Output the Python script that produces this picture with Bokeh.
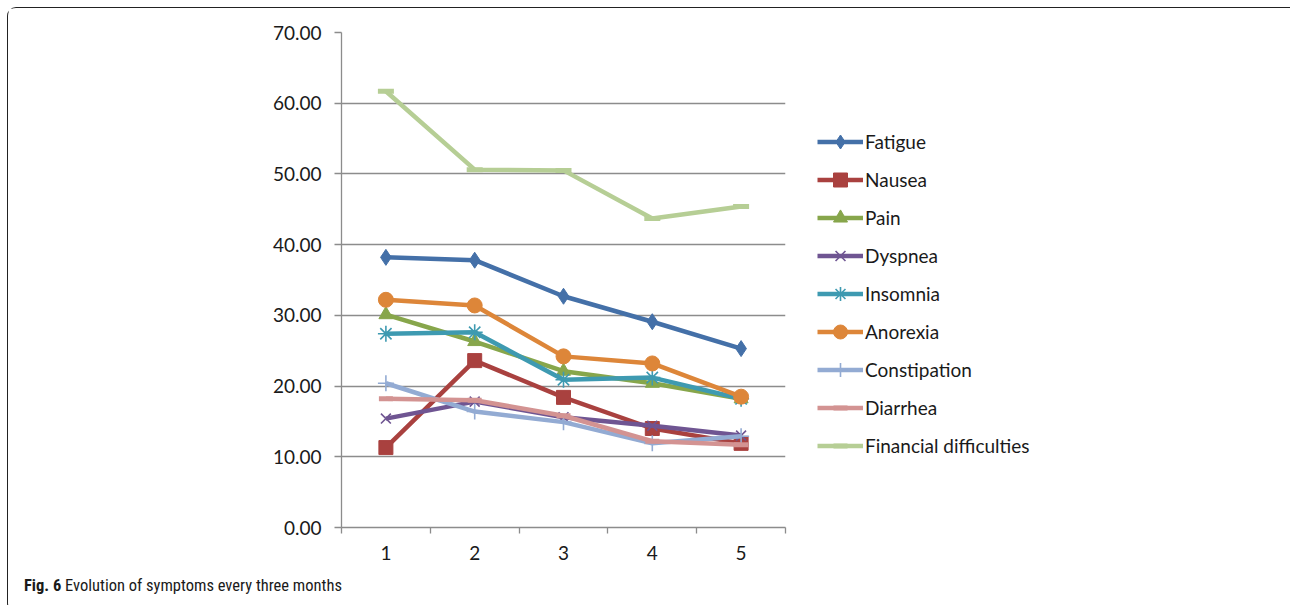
from bokeh.plotting import figure
from bokeh.layouts import column
from bokeh.models import (FixedTicker, NumeralTickFormatter, CustomJSTickFormatter,
                          Legend, Range1d, Div)
from bokeh.embed import file_html
from bokeh.resources import INLINE

# Assessment rounds (every three months)
periods = [1, 2, 3, 4, 5]

fatigue = [38.2, 37.8, 32.7, 29.1, 25.3]
nausea = [11.3, 23.6, 18.4, 14.0, 11.9]
pain = [30.1, 26.3, 22.1, 20.4, 18.2]
dyspnea = [15.4, 17.8, 15.6, 14.4, 13.0]
insomnia = [27.4, 27.6, 20.9, 21.2, 18.2]
anorexia = [32.2, 31.4, 24.2, 23.2, 18.5]
constipation = [20.4, 16.4, 14.9, 11.9, 12.9]
diarrhea = [18.2, 18.0, 15.8, 12.2, 11.7]
financial = [61.7, 50.6, 50.5, 43.7, 45.4]

series_names = ["Fatigue", "Nausea", "Pain", "Dyspnea", "Insomnia", "Anorexia",
                "Constipation", "Diarrhea", "Financial difficulties"]
series_values = [fatigue, nausea, pain, dyspnea, insomnia, anorexia,
                 constipation, diarrhea, financial]
series_colors = ["#4470A8", "#A9413F", "#87A64B", "#6F5592", "#3E9AB1", "#DD8639",
                 "#93ABD3", "#D39392", "#B6CE95"]
series_markers = ["diamond", "square", "triangle", "x", "asterisk", "circle",
                  "cross", "dash", "dash"]
marker_sizes = [16, 14, 14, 14, 16, 15, 16, 14, 16]

y_ticks = [0, 10, 20, 30, 40, 50, 60, 70]

AXIS_FONT = "Lato"
FONT_SIZE = "19px"
GRID = "#8C8C8C"
TEXT = "#1A1A1A"

p = figure(frame_width=444, frame_height=495, output_backend="svg",
           toolbar_location=None,
           x_range=Range1d(0.5, 5.5), y_range=Range1d(0, 70),
           min_border_left=333, min_border_right=0,
           min_border_top=24, min_border_bottom=41)
p.outline_line_color = None
p.background_fill_color = "white"
p.border_fill_color = "white"

# y axis
p.yaxis.ticker = FixedTicker(ticks=y_ticks)
p.yaxis.formatter = NumeralTickFormatter(format="0.00")
p.yaxis.axis_line_color = GRID
p.yaxis.axis_line_width = 1.3
p.yaxis.major_tick_line_color = GRID
p.yaxis.major_tick_line_width = 1.3
p.yaxis.major_tick_out = 7
p.yaxis.major_tick_in = 0
p.yaxis.minor_tick_line_color = None
p.yaxis.major_label_text_font = AXIS_FONT
p.yaxis.major_label_text_font_size = FONT_SIZE
p.yaxis.major_label_text_color = TEXT
p.yaxis.major_label_standoff = 13

# x axis: labels centred on each period, ticks between periods
p.xaxis.ticker = FixedTicker(ticks=periods,
                             minor_ticks=[0.5, 1.5, 2.5, 3.5, 4.5, 5.5])
p.xaxis.formatter = CustomJSTickFormatter(code="return tick.toFixed(0)")
p.xaxis.axis_line_color = GRID
p.xaxis.axis_line_width = 1.3
p.xaxis.major_tick_line_color = None
p.xaxis.minor_tick_line_color = GRID
p.xaxis.minor_tick_line_width = 1.3
p.xaxis.minor_tick_out = 6
p.xaxis.minor_tick_in = 0
p.xaxis.major_label_text_font = AXIS_FONT
p.xaxis.major_label_text_font_size = FONT_SIZE
p.xaxis.major_label_text_color = TEXT
p.xaxis.major_label_standoff = 12

p.xgrid.grid_line_color = None
p.ygrid.ticker = FixedTicker(ticks=y_ticks[1:])
p.ygrid.grid_line_color = GRID
p.ygrid.grid_line_width = 1.3

items = []
for name, vals, col, mk, ms in zip(series_names, series_values, series_colors,
                                   series_markers, marker_sizes):
    ln = p.line(periods, vals, line_color=col, line_width=4.5,
                line_join="round")
    lw = 1.6 if mk in ("x", "asterisk", "cross") else (5 if mk == "dash" else 1)
    sc = p.scatter(periods, vals, marker=mk, size=ms, fill_color=col,
                   line_color=col, line_width=lw)
    items.append((name, [ln, sc]))

legend = Legend(items=items, location=(32, 64),
                orientation="vertical", glyph_width=46, glyph_height=35,
                label_height=20, spacing=3, padding=0, margin=0,
                label_standoff=2, border_line_color=None,
                background_fill_alpha=0,
                label_text_font=AXIS_FONT, label_text_font_size=FONT_SIZE,
                label_text_color=TEXT)
p.add_layout(legend, "right")

caption = Div(
    text="<b>Fig. 6</b> Evolution of symptoms every three months",
    width=1281, height=33,
    styles={"font-family": "'Roboto Condensed', 'Liberation Sans Narrow', Roboto, sans-serif",
            "font-size": "16.5px", "color": TEXT, "padding-left": "11px",
            "padding-top": "1px", "box-sizing": "border-box"})

page = column(p, caption, spacing=0,
              styles={"margin-left": "7px", "margin-top": "7px",
                      "border": "1.5px solid #222",
                      "border-right": "none",
                      "border-radius": "9px 0 0 9px",
                      "background": "white"})

open("out.html", "w").write(file_html(page, INLINE))
